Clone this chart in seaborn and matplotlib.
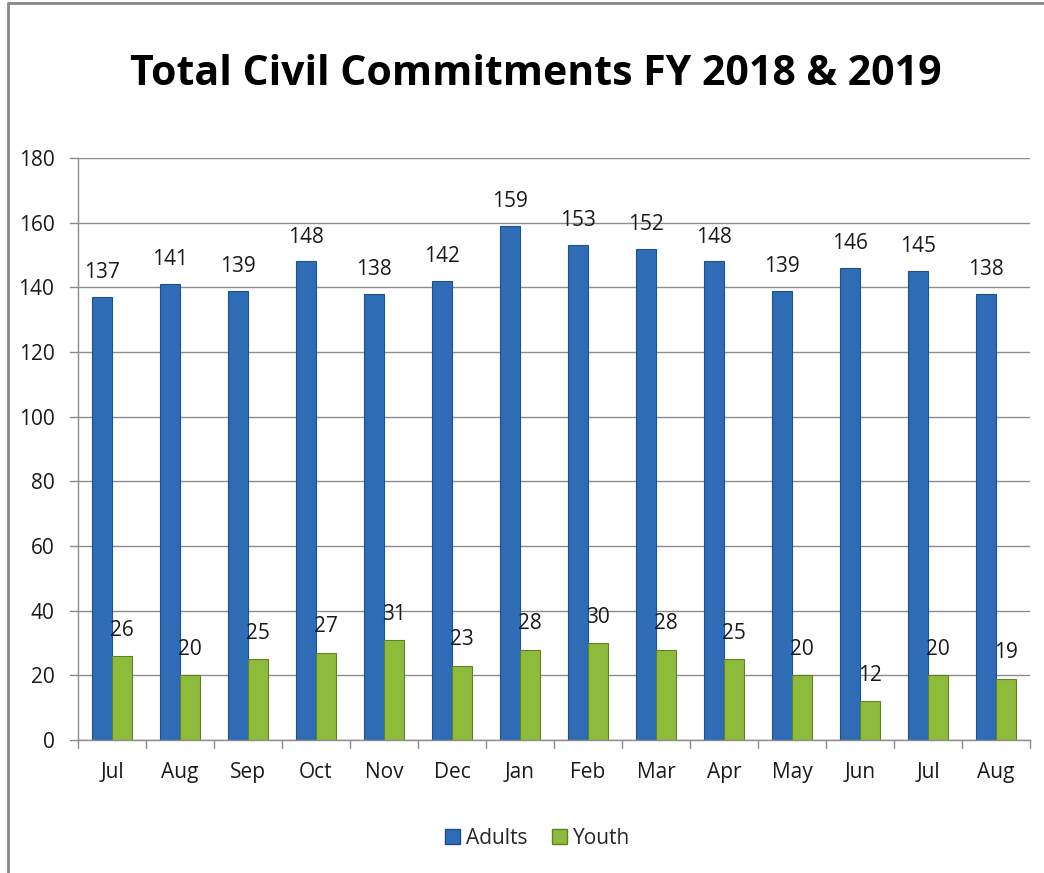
import matplotlib
import pandas as pd
import seaborn as sns

matplotlib.use("Agg")
import matplotlib.pyplot as plt
from matplotlib.lines import Line2D
from matplotlib.patches import Patch

months = ["Jul", "Aug", "Sep", "Oct", "Nov", "Dec", "Jan",
          "Feb", "Mar", "Apr", "May", "Jun", "Jul", "Aug"]
adults = [137, 141, 139, 148, 138, 142, 159, 153, 152, 148, 139, 146, 145, 138]
youth = [26, 20, 25, 27, 31, 23, 28, 30, 28, 25, 20, 12, 20, 19]

BLUE = "#2f6cb6"
GREEN = "#8fbb3c"
GRID = "#8c8c8c"

df = pd.DataFrame({
    "pos": list(range(len(months))) * 2,
    "value": adults + youth,
    "group": ["Adults"] * len(months) + ["Youth"] * len(months),
})

sns.set_style("white")
plt.rcParams["font.family"] = ["Open Sans", "DejaVu Sans"]

fig = plt.figure(figsize=(10.44, 8.73), dpi=100)
ax = fig.add_axes([0.0747, 0.1523, 0.912, 0.6667])

sns.barplot(data=df, x="pos", y="value", hue="group",
            palette=[BLUE, GREEN], width=0.58, ax=ax,
            legend=False, saturation=1)

for cont, color in zip(ax.containers, ["#1f4f8c", "#5f8324"]):
    for bar in cont:
        bar.set_edgecolor(color)
        bar.set_linewidth(0.8)

ax.bar_label(ax.containers[0], fontsize=15, padding=10, color="#1a1a1a")
ax.bar_label(ax.containers[1], fontsize=15, padding=11, color="#1a1a1a")

ax.set_ylim(0, 180)
ax.set_yticks(range(0, 181, 20))
ax.set_xlim(-0.5, len(months) - 0.5)
ax.set_xticks(range(len(months)))
ax.set_xticklabels(months)
ax.set_xlabel("")
ax.set_ylabel("")
ax.tick_params(axis="both", labelsize=15, colors="#1a1a1a", length=0)
ax.tick_params(axis="x", pad=16)
ax.tick_params(axis="y", pad=17)

ax.yaxis.grid(True, color=GRID, linewidth=1)
ax.set_axisbelow(True)
for side in ["top", "right"]:
    ax.spines[side].set_visible(False)
for side in ["left", "bottom"]:
    ax.spines[side].set_color(GRID)
    ax.spines[side].set_linewidth(1)

# outward ticks: y on the left, category separators below
for yv in range(0, 181, 20):
    ax.add_line(Line2D([-0.5 - 0.12, -0.5], [yv, yv], color=GRID, lw=1, clip_on=False))
for xv in range(len(months) + 1):
    ax.add_line(Line2D([xv - 0.5, xv - 0.5], [0, -2.6], color=GRID, lw=1, clip_on=False))

fig.text(0.513, 0.915, "Total Civil Commitments FY 2018 & 2019",
         ha="center", va="center", fontsize=29.5, fontweight="bold", color="black")

handles = [Patch(facecolor=BLUE, edgecolor="#1f4f8c", label="Adults"),
           Patch(facecolor=GREEN, edgecolor="#5f8324", label="Youth")]
fig.legend(handles=handles, loc="center", bbox_to_anchor=(0.515, 0.04), ncol=2,
           frameon=False, fontsize=15, handlelength=0.7, handleheight=0.7,
           handletextpad=0.3, columnspacing=1.2)

# chart frame (left and top edges visible)
fig.add_artist(Line2D([8 / 1044, 8 / 1044], [0, 1 - 3 / 873], color="#888888", lw=2))
fig.add_artist(Line2D([8 / 1044, 1], [1 - 3 / 873, 1 - 3 / 873], color="#888888", lw=2))

fig.savefig("out.png", dpi=100)
plt.close(fig)
